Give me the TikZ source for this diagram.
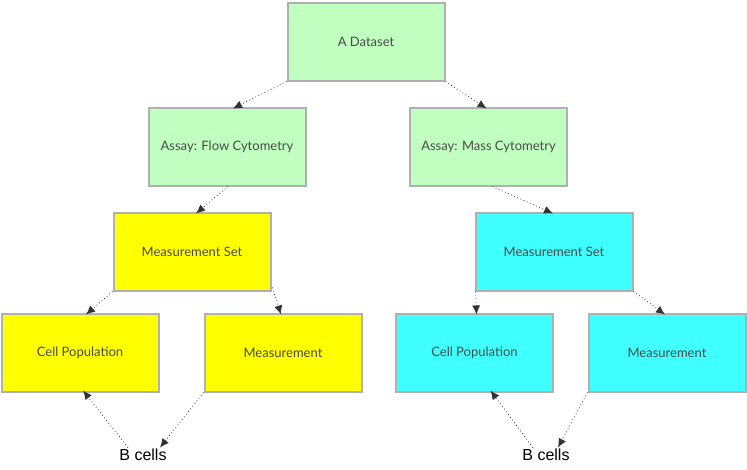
\documentclass[tikz,border=0pt]{standalone}
\usepackage{fontspec}
\setmainfont{Lato}
\newfontfamily\labelfont{Liberation Sans}
\usetikzlibrary{arrows.meta}
\definecolor{assaygreen}{HTML}{C0FFC0}
\definecolor{flowyellow}{HTML}{FFFF00}
\definecolor{masscyan}{HTML}{40FFFF}
\definecolor{boxline}{HTML}{B0B0B0}
\definecolor{boxtext}{HTML}{4A4A4A}
\begin{document}
\begin{tikzpicture}[x=1pt,y=-1pt,
    box/.style={draw=boxline,line width=2pt,minimum width=157pt,minimum height=78pt,
      text=boxtext,font=\fontsize{13}{15}\selectfont},
    link/.style={draw=black!80,line width=0.8pt,dash pattern=on 0.8pt off 2.6pt,
      -{Latex[length=9pt,width=8pt]}}]
      \useasboundingbox (0,0) rectangle (747,469);
      % top
      \node[box,fill=assaygreen] (ds) at (366,41.5) {A Dataset};
      \node[box,fill=assaygreen] (fa) at (227,146.5) {Assay: Flow Cytometry};
      \node[box,fill=assaygreen] (ma) at (488.5,146.5) {Assay: Mass Cytometry};
      % measurement sets
      \node[box,fill=flowyellow] (ms1) at (192,251.5) {Measurement Set};
      \node[box,fill=masscyan] (ms2) at (554,251.5) {Measurement Set};
      % leaves
      \node[box,fill=flowyellow] (cp1) at (80,352.5) {Cell Population};
      \node[box,fill=flowyellow] (m1) at (283,352.5) {Measurement};
      \node[box,fill=masscyan] (cp2) at (474.5,352.5) {Cell Population};
      \node[box,fill=masscyan] (m2) at (667,352.5) {Measurement};
      \node[font=\labelfont\fontsize{16}{18}\selectfont] (bc1) at (143,455) {B cells};
      \node[font=\labelfont\fontsize{16}{18}\selectfont] (bc2) at (546,455) {B cells};
      % links
      \draw[link] (ds.south west) -- ([xshift=6pt,yshift=-2pt]fa.north);
      \draw[link] (ds.south east) -- ([xshift=-2pt,yshift=-2pt]ma.north);
      \draw[link] ([xshift=1pt]fa.south) -- ([xshift=4pt,yshift=-2pt]ms1.north);
      \draw[link] ([xshift=4pt]ma.south) -- ([xshift=-1pt,yshift=-2pt]ms2.north);
      \draw[link] (ms1.south west) -- ([xshift=6pt,yshift=-2pt]cp1.north);
      \draw[link] ([xshift=1pt,yshift=4pt]ms1.south east) -- ([xshift=-2pt,yshift=-2pt]m1.north);
      \draw[link] ([xshift=1pt]ms2.south west) -- ([xshift=2pt,yshift=-2pt]cp2.north);
      \draw[link] (ms2.south east) -- ([xshift=-2pt,yshift=-2pt]m2.north);
      \draw[link] ([xshift=-15pt,yshift=-2pt]bc1.north) -- ([xshift=3pt,yshift=2pt]cp1.south);
      \draw[link] (m1.south west) -- ([xshift=17pt,yshift=-2pt]bc1.north);
      \draw[link] ([xshift=-13pt,yshift=-2pt]bc2.north) -- ([xshift=16pt,yshift=2pt]cp2.south);
      \draw[link] (m2.south west) -- ([xshift=12pt,yshift=-2pt]bc2.north);
\end{tikzpicture}
\end{document}
